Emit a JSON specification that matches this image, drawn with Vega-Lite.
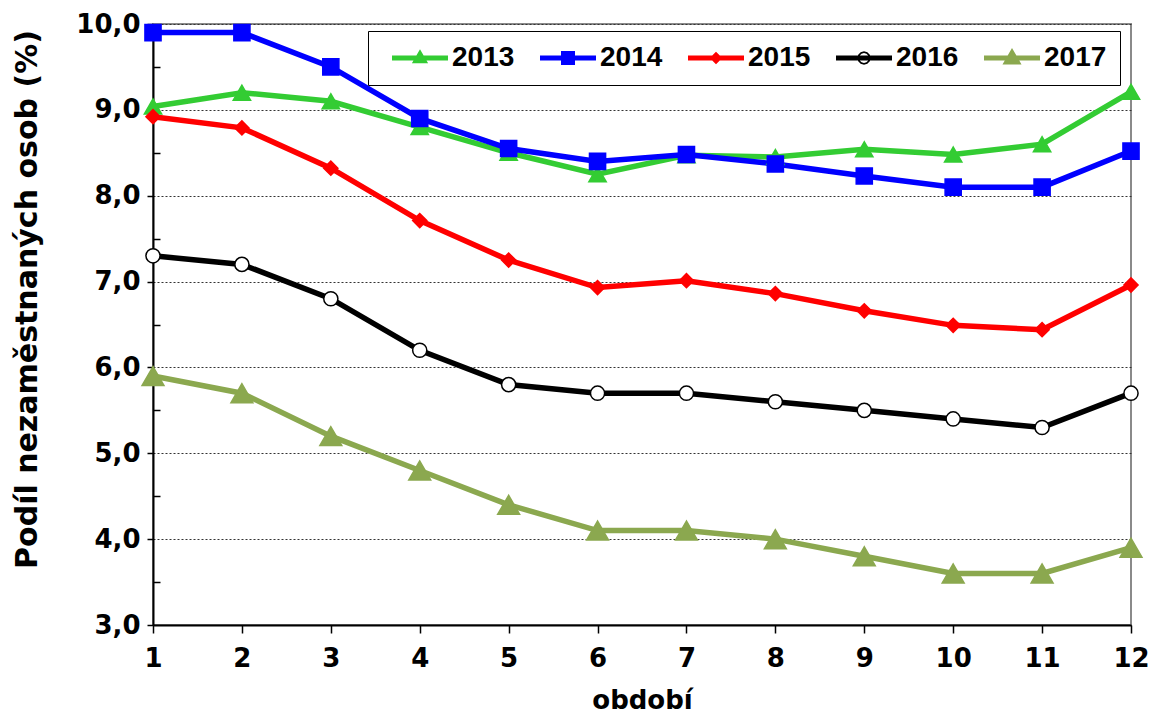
{
  "$schema": "https://vega.github.io/schema/vega-lite/v6.json",
  "width": 978,
  "height": 601,
  "autosize": {"type": "none"},
  "padding": {"left": 153, "top": 24, "right": 19, "bottom": 95},
  "background": "white",
  "config": {
    "view": {"stroke": "#8a8a8a", "strokeWidth": 2},
    "axis": {"labelFont": "DejaVu Sans", "labelFontWeight": "bold", "labelColor": "black", "titleColor": "black"}
  },
  "data": {"values": [
    {"period": 1, "year": "2013", "value": 9.04}, {"period": 2, "year": "2013", "value": 9.2}, {"period": 3, "year": "2013", "value": 9.1}, {"period": 4, "year": "2013", "value": 8.8}, {"period": 5, "year": "2013", "value": 8.5}, {"period": 6, "year": "2013", "value": 8.25}, {"period": 7, "year": "2013", "value": 8.47}, {"period": 8, "year": "2013", "value": 8.45}, {"period": 9, "year": "2013", "value": 8.54}, {"period": 10, "year": "2013", "value": 8.48}, {"period": 11, "year": "2013", "value": 8.6}, {"period": 12, "year": "2013", "value": 9.21},
    {"period": 1, "year": "2014", "value": 9.9}, {"period": 2, "year": "2014", "value": 9.9}, {"period": 3, "year": "2014", "value": 9.5}, {"period": 4, "year": "2014", "value": 8.9}, {"period": 5, "year": "2014", "value": 8.55}, {"period": 6, "year": "2014", "value": 8.4}, {"period": 7, "year": "2014", "value": 8.48}, {"period": 8, "year": "2014", "value": 8.37}, {"period": 9, "year": "2014", "value": 8.23}, {"period": 10, "year": "2014", "value": 8.1}, {"period": 11, "year": "2014", "value": 8.1}, {"period": 12, "year": "2014", "value": 8.52},
    {"period": 1, "year": "2015", "value": 8.92}, {"period": 2, "year": "2015", "value": 8.79}, {"period": 3, "year": "2015", "value": 8.32}, {"period": 4, "year": "2015", "value": 7.71}, {"period": 5, "year": "2015", "value": 7.25}, {"period": 6, "year": "2015", "value": 6.93}, {"period": 7, "year": "2015", "value": 7.01}, {"period": 8, "year": "2015", "value": 6.86}, {"period": 9, "year": "2015", "value": 6.66}, {"period": 10, "year": "2015", "value": 6.49}, {"period": 11, "year": "2015", "value": 6.44}, {"period": 12, "year": "2015", "value": 6.96},
    {"period": 1, "year": "2016", "value": 7.3}, {"period": 2, "year": "2016", "value": 7.2}, {"period": 3, "year": "2016", "value": 6.8}, {"period": 4, "year": "2016", "value": 6.2}, {"period": 5, "year": "2016", "value": 5.8}, {"period": 6, "year": "2016", "value": 5.7}, {"period": 7, "year": "2016", "value": 5.7}, {"period": 8, "year": "2016", "value": 5.6}, {"period": 9, "year": "2016", "value": 5.5}, {"period": 10, "year": "2016", "value": 5.4}, {"period": 11, "year": "2016", "value": 5.3}, {"period": 12, "year": "2016", "value": 5.7},
    {"period": 1, "year": "2017", "value": 5.9}, {"period": 2, "year": "2017", "value": 5.7}, {"period": 3, "year": "2017", "value": 5.2}, {"period": 4, "year": "2017", "value": 4.8}, {"period": 5, "year": "2017", "value": 4.4}, {"period": 6, "year": "2017", "value": 4.1}, {"period": 7, "year": "2017", "value": 4.1}, {"period": 8, "year": "2017", "value": 4.0}, {"period": 9, "year": "2017", "value": 3.8}, {"period": 10, "year": "2017", "value": 3.6}, {"period": 11, "year": "2017", "value": 3.6}, {"period": 12, "year": "2017", "value": 3.9}
  ]},
  "encoding": {
    "x": {
      "field": "period", "type": "quantitative",
      "scale": {"domain": [1, 12], "nice": false, "zero": false},
      "axis": {
        "values": [1, 2, 3, 4, 5, 6, 7, 8, 9, 10, 11, 12],
        "title": "období",
        "titleFont": "DejaVu Sans", "titleFontWeight": "bold", "titleFontSize": 26,
        "titleBaseline": "middle", "titleY": 75,
        "labelFontSize": 26, "labelPadding": 12,
        "tickSize": 8, "tickColor": "black", "tickWidth": 1.5,
        "domainColor": "black", "domainWidth": 2,
        "grid": false, "labelFlush": false
      }
    },
    "y": {
      "field": "value", "type": "quantitative",
      "scale": {"domain": [3, 10], "nice": false, "zero": false},
      "axis": {
        "values": [3, 3.5, 4, 4.5, 5, 5.5, 6, 6.5, 7, 7.5, 8, 8.5, 9, 9.5, 10],
        "labelExpr": "datum.value % 1 == 0 ? replace(format(datum.value, '.1f'), '.', ',') : ''",
        "title": "Podíl nezaměstnaných osob (%)",
        "titleFont": "DejaVu Sans", "titleFontWeight": "bold", "titleFontSize": 30,
        "titleAngle": 270, "titleAlign": "center", "titleBaseline": "middle",
        "titleX": -126, "titleY": 275,
        "labelFontSize": 26, "labelPadding": 7,
        "tickSize": {"condition": {"test": "datum.value % 1 != 0", "value": -7}, "value": 6},
        "tickColor": "black", "tickWidth": 1.5,
        "domainColor": "black", "domainWidth": 2,
        "grid": true, "gridColor": "#333", "gridDash": [2, 2], "gridWidth": 1,
        "gridOpacity": {"condition": {"test": "datum.value % 1 != 0", "value": 0}, "value": 1},
        "labelFlush": false
      }
    }
  },
  "layer": [
    {
      "mark": {"type": "line", "strokeWidth": 5.5},
      "encoding": {
        "color": {
          "field": "year", "type": "nominal",
          "scale": {"domain": ["2013", "2014", "2015", "2016", "2017"], "range": ["#33CC33", "#0000FF", "#FF0000", "#000000", "#8BA84F"]},
          "legend": {
            "title": null,
            "orient": "none", "legendX": 215, "legendY": 7,
            "direction": "horizontal", "columns": 5,
            "strokeColor": "black", "fillColor": "white", "padding": 13,
            "labelFont": "Liberation Sans", "labelFontWeight": "bold", "labelFontSize": 28, "labelColor": "black",
            "labelOffset": 18, "columnPadding": 14, "symbolOffset": 25,
            "symbolSize": 784, "symbolStrokeWidth": 0,
            "encode": {
              "symbols": {
                "update": {
                  "shape": {"signal": "datum.value == '2013' ? 'M-2,-0.17L2,-0.17L2,0.17L-2,0.17Z M0,-0.62L0.58,0.38L-0.58,0.38Z' : datum.value == '2014' ? 'M-2,-0.17L2,-0.17L2,0.17L-2,0.17Z M-0.5,-0.5L0.5,-0.5L0.5,0.5L-0.5,0.5Z' : datum.value == '2015' ? 'M-2,-0.17L2,-0.17L2,0.17L-2,0.17Z M0,-0.45L0.45,0L0,0.45L-0.45,0Z' : datum.value == '2016' ? 'M-2,-0.17L2,-0.17L2,0.17L-2,0.17Z M0.48,0L0.416,0.24L0.24,0.416L0,0.48L-0.24,0.416L-0.416,0.24L-0.48,0L-0.416,-0.24L-0.24,-0.416L0,-0.48L0.24,-0.416L0.416,-0.24Z M0.35,0L0.303,-0.175L0.175,-0.303L0,-0.35L-0.175,-0.303L-0.303,-0.175L-0.35,0L-0.303,0.175L-0.175,0.303L0,0.35L0.175,0.303L0.303,0.175Z' : 'M-2,-0.17L2,-0.17L2,0.17L-2,0.17Z M0,-0.72L0.68,0.46L-0.68,0.46Z'"},
                  "fill": {"signal": "datum.value == '2013' ? '#33CC33' : datum.value == '2014' ? '#0000FF' : datum.value == '2015' ? '#FF0000' : datum.value == '2016' ? '#000000' : '#8BA84F'"},
                  "fillOpacity": {"value": 1},
                  "opacity": {"value": 1},
                  "strokeWidth": {"value": 0}
                }
              }
            }
          }
        }
      }
    },
    {
      "mark": {"type": "point", "filled": false, "opacity": 1, "strokeWidth": 1.5},
      "encoding": {
        "shape": {
          "condition": [
            {"test": "datum.year == '2014'", "value": "square"},
            {"test": "datum.year == '2015'", "value": "diamond"},
            {"test": "datum.year == '2016'", "value": "circle"}
          ],
          "value": "triangle-up"
        },
        "size": {
          "condition": [
            {"test": "datum.year == '2013'", "value": 300},
            {"test": "datum.year == '2014'", "value": 260},
            {"test": "datum.year == '2015'", "value": 200},
            {"test": "datum.year == '2016'", "value": 200}
          ],
          "value": 480
        },
        "fill": {
          "condition": [
            {"test": "datum.year == '2013'", "value": "#33CC33"},
            {"test": "datum.year == '2014'", "value": "#0000FF"},
            {"test": "datum.year == '2015'", "value": "#FF0000"},
            {"test": "datum.year == '2016'", "value": "#FFFFFF"}
          ],
          "value": "#8BA84F"
        },
        "stroke": {
          "condition": [
            {"test": "datum.year == '2013'", "value": "#33CC33"},
            {"test": "datum.year == '2014'", "value": "#0000FF"},
            {"test": "datum.year == '2015'", "value": "#FF0000"},
            {"test": "datum.year == '2016'", "value": "#000000"}
          ],
          "value": "#8BA84F"
        }
      }
    }
  ]
}
